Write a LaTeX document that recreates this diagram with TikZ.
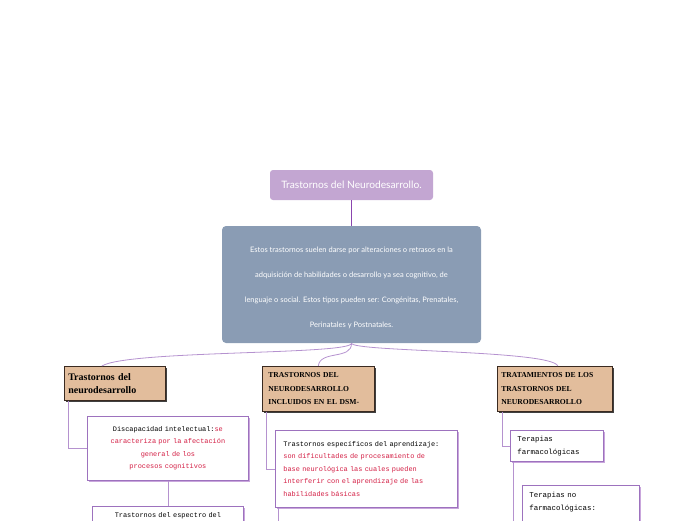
\documentclass[tikz,border=0pt]{standalone}
\usepackage{fontspec}
\newfontfamily\lato{Lato}
\newfontfamily\mono{Liberation Mono}
\newfontfamily\slab{Liberation Serif}
\usetikzlibrary{shadows}
\definecolor{topfill}{HTML}{C3A6D2}
\definecolor{grayfill}{HTML}{8A9CB4}
\definecolor{tanfill}{HTML}{E2BD9C}
\definecolor{tanborder}{HTML}{3A2A20}
\definecolor{redtxt}{HTML}{D41F45}
\definecolor{lightline}{HTML}{B592CF}
\definecolor{darkline}{HTML}{8A45AE}
\definecolor{boxpurple}{HTML}{9D72BE}
\definecolor{shpurple}{HTML}{C9A6DC}
\begin{document}
\begin{tikzpicture}[x=1pt,y=-1pt,
  topbox/.style={fill=topfill, rounded corners=3pt, minimum width=163pt, minimum height=30pt, inner sep=0pt, text=white, font=\lato\fontsize{10.2}{12}\selectfont},
  graybox/.style={fill=grayfill, rounded corners=4pt, minimum width=259pt, minimum height=117pt, inner sep=0pt, text=white, align=center, font=\lato\fontsize{7.5}{25}\selectfont},
  tanbox/.style={draw=tanborder, fill=tanfill, line width=0.6pt, anchor=north west, align=left,
    drop shadow={shadow xshift=1.8pt, shadow yshift=-1.8pt, fill=black!75, opacity=1}},
  whitebox/.style={draw=boxpurple, fill=white, line width=0.8pt, anchor=north west,
    drop shadow={shadow xshift=2pt, shadow yshift=-2pt, fill=shpurple, opacity=1},
    font=\mono\fontsize{6.9}{12.5}\selectfont},
  conn/.style={draw=lightline, line width=0.8pt}
]
\useasboundingbox (0,0) rectangle (696,520);
\clip (0,0) rectangle (696,520);

\node[topbox] (top) at (351.5,185) {Trastornos del Neurodesarrollo.};
\node[graybox, text height=87pt] (gray) at (351.5,284.5) {Estos trastornos suelen darse por alteraciones o retrasos en la\\
adquisición de habilidades o desarrollo ya sea cognitivo, de\\
lenguaje o social. Estos tipos pueden ser: Congénitas, Prenatales,\\
Perinatales y Postnatales.};
\draw[darkline, line width=1.4pt] (top.south) -- (gray.north);

\node[tanbox, text width=93pt, inner xsep=4pt, minimum height=34pt, font=\slab\bfseries\fontsize{10}{13}\selectfont] (lt) at (64,366) {Trastornos del\\neurodesarrollo};
\node[tanbox, text width=100pt, inner xsep=6pt, minimum height=45pt, font=\slab\bfseries\fontsize{7.6}{13.5}\selectfont] (mt) at (262,366) {TRASTORNOS DEL\\NEURODESARROLLO\\INCLUIDOS EN EL DSM-};
\node[tanbox, text width=107pt, inner xsep=4pt, minimum height=45pt, font=\slab\bfseries\fontsize{7.6}{13.5}\selectfont] (rt) at (497,366) {TRATAMIENTOS DE LOS\\TRASTORNOS DEL\\NEURODESARROLLO};

\draw[conn] (gray.south) .. controls (352,355) and (128,350) .. ([xshift=-13pt]lt.north);
\draw[conn] (gray.south) .. controls (352,360) and (320,350) .. (mt.north);
\draw[conn] (gray.south) .. controls (352,352) and (552,350) .. ([xshift=3pt]rt.north);

\node[whitebox, text width=145pt, inner xsep=8pt, minimum height=64pt, align=center] (lc) at (87,416) {Discapacidad intelectual:{\color{redtxt}se}\\
\color{redtxt}caracteriza por la afectación\\
\color{redtxt}general de los\\
\color{redtxt}procesos cognitivos};
\node[whitebox, text width=135pt, inner xsep=8pt, inner ysep=6pt, text depth=50pt, align=center] (lc2) at (92,506) {Trastornos del espectro del};
\draw[conn] ([xshift=4pt]lt.south west) |- (lc.west);
\draw[conn] (lc.south) -- (lc2.north);

\node[whitebox, text width=166pt, inner xsep=8pt, minimum height=77pt, align=left] (mc) at (275,430) {Trastornos específicos del aprendizaje:\\
\color{redtxt}son dificultades de procesamiento de\\
\color{redtxt}base neurológica las cuales pueden\\
\color{redtxt}interferir con el aprendizaje de las\\
\color{redtxt}habilidades básicas};
\coordinate (mend) at (278,530);
\draw[conn] ([xshift=4pt]mt.south west) |- (mc.west);
\draw[conn] ([xshift=3pt]mc.south west) -- (mend);

\node[whitebox, text width=79pt, inner xsep=7pt, minimum height=31pt, align=left, font=\mono\fontsize{7.4}{13}\selectfont] (rc1) at (510,430) {Terapias\\farmacológicas};
\node[whitebox, text width=103pt, inner xsep=7pt, inner ysep=7pt, text depth=60pt, align=left, font=\mono\fontsize{7.4}{13}\selectfont] (rc2) at (522,485) {Terapias no\\farmacológicas:};
\draw[conn] ([xshift=5pt]rt.south west) |- (rc1.west);
\draw[conn] ([xshift=3pt]rc1.south west) |- (rc2.west);
\end{tikzpicture}
\end{document}
